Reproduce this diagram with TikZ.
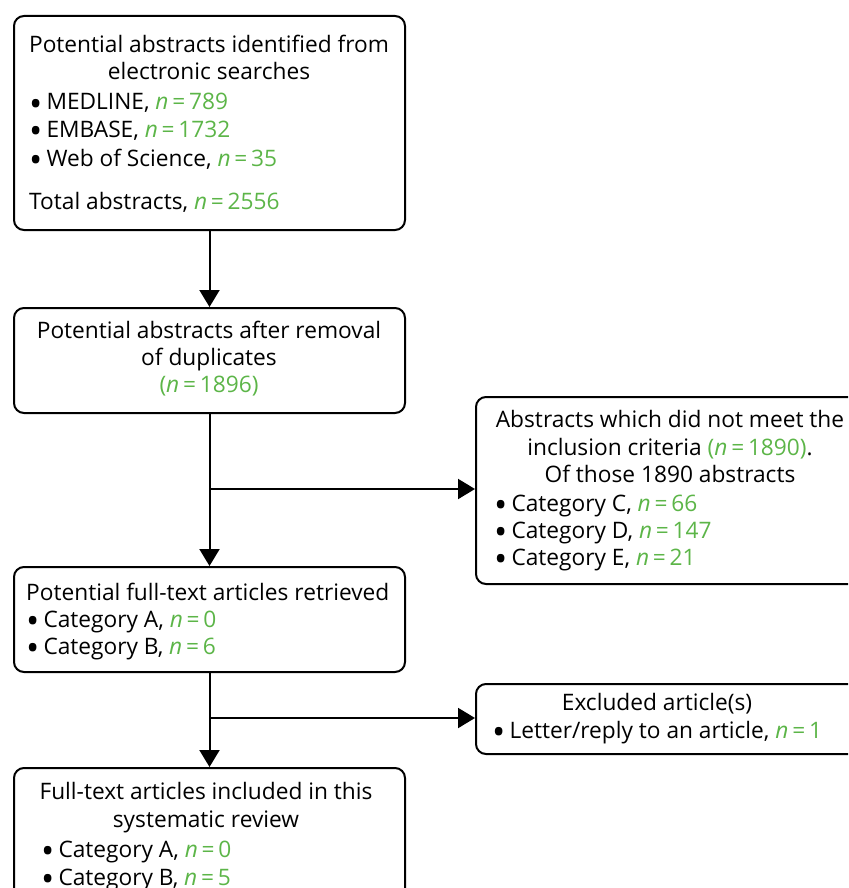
\documentclass[tikz,border=0pt]{standalone}
\usepackage{fontspec}
\usepackage{graphicx}
\setmainfont{Open Sans}
\usetikzlibrary{arrows.meta}
\definecolor{numgreen}{RGB}{92,181,72}
\newcommand{\gn}[1]{\textcolor{numgreen}{\textit{n}\,=\,#1}}
\newcommand{\bul}{\smash{\raisebox{-0.27em}{\scalebox{1.55}{•}}}\hspace{0.18em}}
\begin{document}
\begin{tikzpicture}[x=1pt,y=-1pt,
  box/.style={draw=black, line width=2pt, rounded corners=10pt, inner sep=0pt, anchor=north west},
  flow/.style={draw=black, line width=2pt, -{Triangle[length=17pt,width=20pt]}},
  txt/.style={inner sep=0pt, font=\fontsize{22.7}{27}\selectfont},
  head/.style={txt, anchor=base},
  item/.style={txt, anchor=base west}]
\useasboundingbox (0,0) rectangle (848,888);
\clip (0,0) rectangle (848,888);

% boxes
\node[box, minimum width=391pt, minimum height=214pt] (b1) at (13,15) {};
\node[box, minimum width=391pt, minimum height=105pt] (b2) at (13,307) {};
\node[box, minimum width=389pt, minimum height=187pt] (b3) at (475,396) {};
\node[box, minimum width=391pt, minimum height=105pt] (b4) at (13,566) {};
\node[box, minimum width=389pt, minimum height=70pt]  (b5) at (475,683) {};
\node[box, minimum width=391pt, minimum height=140pt] (b6) at (13,767) {};

% texts of the first box
\node[head] (t11) at (209,53) {Potential abstracts identified from};
\node[head] (t12) at (209,80) {electronic searches};
\node[item] (t13) at (29,110) {\bul MEDLINE, \gn{789}};
\node[item] (t14) at (29,137) {\bul EMBASE, \gn{1732}};
\node[item] (t15) at (29,166) {\bul Web of Science, \gn{35}};
\node[item] (t16) at (29,209) {Total abstracts, \gn{2556}};

% after removal of duplicates
\node[head] (t21) at (209,338) {Potential abstracts after removal};
\node[head] (t22) at (209,365) {of duplicates};
\node[head] (t23) at (209,392) {\textcolor{numgreen}{(\textit{n}\,=\,1896)}};

% abstracts excluded
\node[head] (t31) at (670,427) {Abstracts which did not meet the};
\node[head] (t32) at (670,455) {inclusion criteria \textcolor{numgreen}{(\textit{n}\,=\,1890)}.};
\node[head] (t33) at (670,482) {Of those 1890 abstracts};
\node[item] (t34) at (494,511) {\bul Category C, \gn{66}};
\node[item] (t35) at (494,538) {\bul Category D, \gn{147}};
\node[item] (t36) at (494,565) {\bul Category E, \gn{21}};

% full-text articles retrieved
\node[item] (t41) at (26,600) {Potential full-text articles retrieved};
\node[item] (t42) at (26,627) {\bul Category A, \gn{0}};
\node[item] (t43) at (26,654) {\bul Category B, \gn{6}};

% excluded articles
\node[head] (t51) at (657,710) {Excluded article(s)};
\node[item] (t52) at (492,738) {\bul Letter/reply to an article, \gn{1}};

% included articles
\node[head] (t61) at (206,799) {Full-text articles included in this};
\node[head] (t62) at (206,827) {systematic review};
\node[item] (t63) at (41,857) {\bul Category A, \gn{0}};
\node[item] (t64) at (41,885) {\bul Category B, \gn{5}};

% connectors
\coordinate (j1) at (b2.south |- 0,489);
\coordinate (j2) at (b4.south |- 0,718);
\draw[flow] (b1.south) -- (b2.north);
\draw[flow] (b2.south) -- (b4.north);
\draw[flow] (j1) -- (j1 -| b3.west);
\draw[flow] (b4.south) -- (b6.north);
\draw[flow] (j2) -- (j2 -| b5.west);
\end{tikzpicture}
\end{document}
